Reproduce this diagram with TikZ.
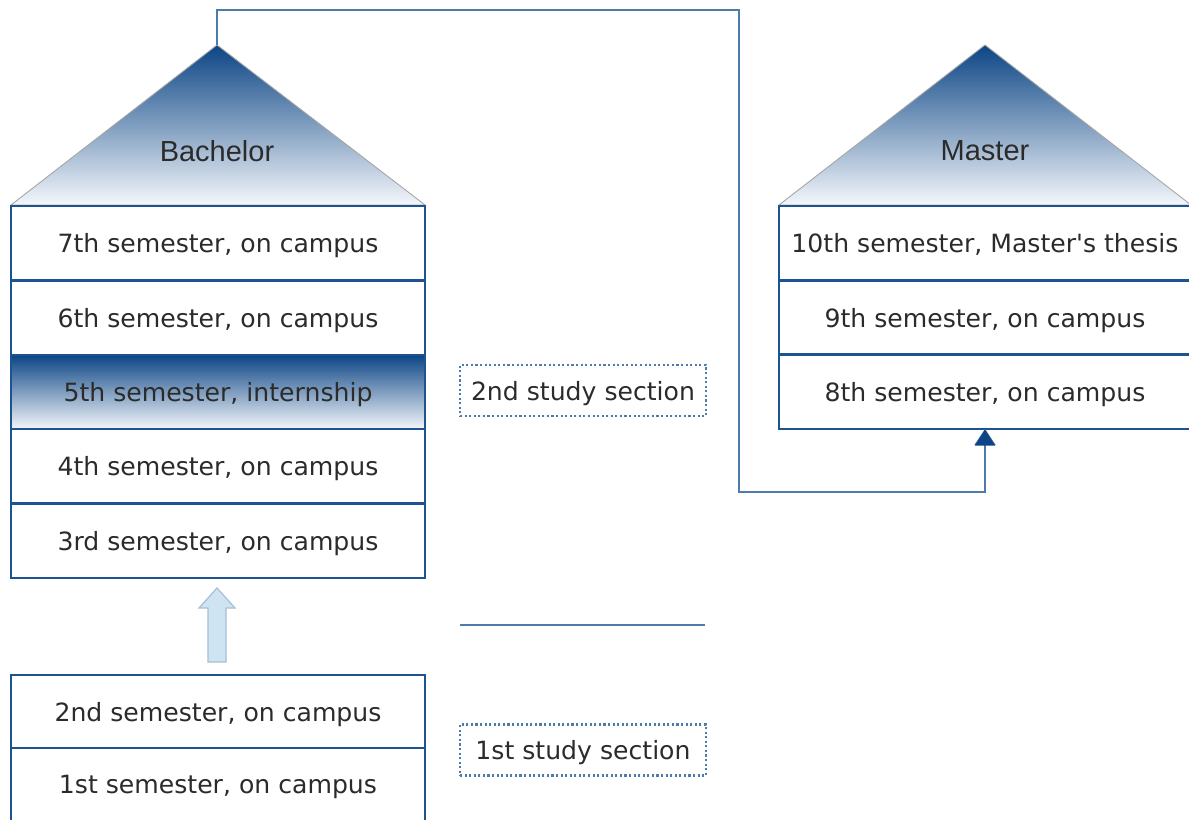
\documentclass[tikz,border=0pt]{standalone}
\usepackage{fontspec}
\setmainfont{DejaVu Sans}
\newfontfamily\headfont{Liberation Sans}
\usepackage{tikz}
\usetikzlibrary{positioning, arrows.meta}

\definecolor{uniblue}{HTML}{1C5390}
\definecolor{deepblue}{HTML}{0C4585}
\definecolor{linkblue}{HTML}{4D7BAA}
\definecolor{paleblue}{HTML}{F4F7FB}
\definecolor{skyfill}{HTML}{CFE4F3}
\definecolor{skyline}{HTML}{A8BFD4}
\definecolor{textgray}{HTML}{2B2B2B}

\tikzset{
  sem/.style={draw=uniblue, line width=1.4pt, fill=white, minimum width=8.28cm,
    minimum height=1.488cm, inner sep=0pt, outer sep=0pt, text=textgray, text depth=0pt,
    font=\fontsize{14.3}{16}\selectfont},
  section/.style={draw=linkblue, line width=1.3pt, dash pattern=on 1.2pt off 1.4pt,
    minimum width=4.92cm, minimum height=1.02cm, inner sep=0pt, text=textgray,
    text depth=0pt, font=\fontsize{14.3}{16}\selectfont},
  roof/.style={draw=gray!70, line width=0.5pt, top color=deepblue, bottom color=paleblue},
  link/.style={draw=linkblue, line width=1.1pt}
}

\begin{document}
\begin{tikzpicture}[x=0.02cm, y=-0.02cm]
    \useasboundingbox (0,0) rectangle (1189,820);

    % Roofs
    \shade[roof] (11,205) -- (217,45) -- (425,205) -- cycle;
    \shade[roof] (779,205) -- (985,45) -- (1191,205) -- cycle;
    \coordinate (bapex) at (217,45);
    \node[text=textgray, font=\headfont\fontsize{16.5}{18}\selectfont] (bach) at (217,151) {Bachelor};
    \node[text=textgray, font=\headfont\fontsize{16.5}{18}\selectfont] (mast) at (985,151) {Master};

    % Bachelor semesters
    \foreach \n/\y/\t in {7/243.2/{7th semester, on campus}, 6/317.6/{6th semester, on campus},
                          4/466.4/{4th semester, on campus}, 3/540.8/{3rd semester, on campus}} {
      \node[sem] (s\n) at (218,\y) {\t};
    }
    \node[sem, top color=deepblue, bottom color=paleblue] (s5) at (218,392) {5th semester, internship};

    % First study section
    \node[sem, minimum height=1.46cm] (s2) at (218,711.5) {2nd semester, on campus};
    \node[sem, minimum height=1.46cm, below=0pt of s2] (s1) {1st semester, on campus};

    % Master semesters
    \foreach \n/\y/\t in {10/243.2/{10th semester, Master\textquotesingle s thesis}, 9/317.5/{9th semester, on campus},
                          8/391.8/{8th semester, on campus}} {
      \node[sem, minimum width=8.24cm] (m\n) at (985,\y) {\t};
    }

    % Sections
    \node[section] (sec2) at (583,390.5) {2nd study section};
    \node[section] (sec1) at (583,750) {1st study section};
    \draw[link, line width=1.3pt] (460,625) -- (705,625);

    % Step up arrow
    \draw[draw=skyline, fill=skyfill, line width=0.7pt]
      (208,662) -- (208,608) -- (199,608) -- (217,588) -- (235,608) -- (226,608) -- (226,662) -- cycle;

    % Bachelor to Master
    \draw[link, -{Triangle[width=0.42cm, length=0.32cm]}, color=linkblue]
      (bapex) -- (217,10) -| (739,492) -| (m8.south);
    \fill[deepblue] ([yshift=-0.3pt]m8.south) -- ++(-10,16) -- ++(20,0) -- cycle;
\end{tikzpicture}
\end{document}
